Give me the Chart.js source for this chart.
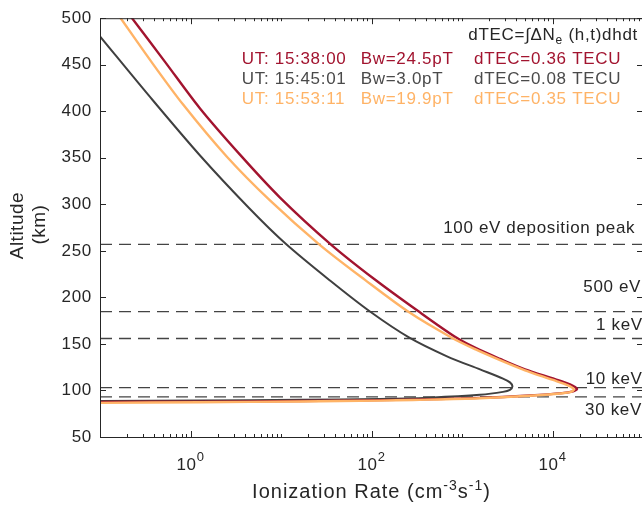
<!DOCTYPE html>
<html><head><meta charset="utf-8">
<script src="https://cdn.jsdelivr.net/npm/chart.js@4.4.1/dist/chart.umd.min.js"></script>
<style>
html,body{margin:0;padding:0;background:#fff;overflow:hidden;width:642px;height:509px}
#wrap{position:relative;width:644px;height:509px}
canvas{display:block}
</style></head>
<body><div id="wrap"><canvas id="c" width="644" height="509" style="width:644px;height:509px"></canvas></div>
<script>
// ---------------- data ----------------
const altRed  = [501, 453.1, 403.0, 353.4, 307.3, 256.8, 219.2, 185.3, 157.7, 146.0, 133.9, 122.7, 112.2, 106.5, 101.6, 99.1, 97.1, 94.6, 92.0, 90.2, 89.6, 88.7, 88.0, 87.7];
const rateRed = [0.222, 0.523, 1.274, 3.52, 9.75, 35.7, 109, 327, 837, 1393, 2632, 4966, 10660, 15600, 18660, 16860, 12740, 5636, 1581, 288, 124, 16.2, 1.274, 0.1];

const altGray  = [480.5, 415.4, 352.5, 296.1, 257.9, 218.1, 184.8, 157.0, 136.7, 122.6, 112.8, 108.7, 104.4, 100.7, 98.5, 95.3, 92.3, 90.8, 89.9, 89.2, 88.6];
const rateGray = [0.1, 0.357, 1.274, 4.43, 11.2, 34.8, 96.2, 259, 682, 1581, 2838, 3388, 3610, 3388, 2838, 1581, 443, 124, 16.2, 1.274, 0.1];

const altOrange  = [501, 455.2, 406.9, 351.4, 304.2, 256.2, 218.8, 183.4, 156.7, 144.4, 132.6, 121.7, 111.3, 105.5, 101.2, 98.4, 96.7, 94.3, 91.6, 89.8, 89.1, 88.2, 87.4, 86.7];
const rateOrange = [0.1664, 0.357, 0.833, 2.51, 7.55, 27.0, 84.7, 266, 769, 1393, 2632, 4966, 10140, 14830, 17290, 16000, 12100, 5636, 1581, 288, 124, 16.2, 1.274, 0.1];

const peakAltitudes = [257, 184.7, 155.8, 103.1, 93.1];
const peakLabels    = ['100 eV deposition peak', '500 eV', '1 keV', '10 keV', '30 keV'];

const utTimes    = ['15:38:00', '15:45:01', '15:53:11'];
const bwValues   = [24.5, 3.0, 19.9];
const dtecValues = [0.36, 0.08, 0.35];

const yTickValues    = [50, 100, 150, 200, 250, 300, 350, 400, 450, 500];
const xTickExponents = [0, 2, 4];
const xRange = [0.1, 1e5];

// ---------------- styles / placement ----------------
const FONT = '"Liberation Sans", Arial, Helvetica, sans-serif';
const AXIS = '#262626';
const C_RED = '#a2142f', C_GRAY = '#404040', C_ORANGE = '#ffb366';
const TEXT_COLORS = [C_RED, '#4a4a4a', C_ORANGE];
const peakLabelPos = [
  {x: 620,   alt: 269.5},
  {x: 21900, alt: 206.1},
  {x: 30300, alt: 165.3},
  {x: 23300, alt: 107.3},
  {x: 22900, alt: 73.9}
];

function pts(xs, ys){ return xs.map((x,i)=>({x:x, y:ys[i]})); }

const datasets = [];
datasets.push({data: pts(rateOrange, altOrange), borderColor: C_ORANGE, borderWidth: 2.4, order: 0});
datasets.push({data: pts(rateRed, altRed), borderColor: C_RED, borderWidth: 2.4, order: 1});
datasets.push({data: pts(rateGray, altGray), borderColor: C_GRAY, borderWidth: 2, order: 2});
peakAltitudes.forEach(a=>{
  datasets.push({data: [{x:xRange[0], y:a},{x:xRange[1], y:a}], borderColor:'#444444', borderWidth:1.4, borderDash:[12,7], tension:0, order: 3});
});
datasets.forEach(d=>{ d.showLine = true; d.pointRadius = 0; d.fill = false; if (d.tension === undefined) d.tension = 0.3; });

function drawRich(ctx, parts, x, y, align, color, spacing){
  ctx.save();
  ctx.fillStyle = color;
  ctx.textBaseline = 'alphabetic';
  ctx.textAlign = 'left';
  try { ctx.letterSpacing = spacing + 'px'; } catch(e){}
  const w = parts.map(p=>{ ctx.font = p.size + 'px ' + FONT; return ctx.measureText(p.t).width; });
  const total = w.reduce((a,b)=>a+b,0);
  let sx = align === 'center' ? x - total/2 : (align === 'right' ? x - total : x);
  parts.forEach((p,i)=>{ ctx.font = p.size + 'px ' + FONT; ctx.fillText(p.t, sx, y + (p.dy||0)); sx += w[i]; });
  ctx.restore();
}

const decor = {
  id: 'decor',
  beforeDraw(chart){ try { chart.ctx.letterSpacing = '0.7px'; } catch(e){} },
  afterDraw(chart){
    const ctx = chart.ctx, a = chart.chartArea;
    const xs = chart.scales.x, ys = chart.scales.y;
    try { ctx.letterSpacing = '0px'; } catch(e){}
    ctx.save();
    ctx.strokeStyle = AXIS; ctx.lineWidth = 1;
    ctx.strokeRect(a.left + 0.5, a.top + 0.5, a.right - a.left - 1, a.bottom - a.top);
    ctx.beginPath();
    yTickValues.forEach(v=>{
      const py = Math.round(ys.getPixelForValue(v)) + 0.5;
      ctx.moveTo(a.left, py); ctx.lineTo(a.left + 6, py);
      ctx.moveTo(a.right, py); ctx.lineTo(a.right - 6, py);
    });
    const e0 = Math.round(Math.log10(xRange[0])), e1 = Math.round(Math.log10(xRange[1]));
    for (let e = e0; e <= e1; e++){
      for (let m = 1; m <= 9; m++){
        const v = m * Math.pow(10, e);
        if (v < xRange[0] || v > xRange[1]) continue;
        const major = (m === 1 && xTickExponents.indexOf(e) >= 0);
        const len = major ? 6 : 3;
        const px = Math.round(xs.getPixelForValue(v)) + 0.5;
        ctx.moveTo(px, a.bottom); ctx.lineTo(px, a.bottom - len);
        ctx.moveTo(px, a.top); ctx.lineTo(px, a.top + len);
      }
    }
    ctx.stroke();
    ctx.restore();

    xTickExponents.forEach(e=>{
      const px = xs.getPixelForValue(Math.pow(10, e));
      drawRich(ctx, [{t:'10', size:17}, {t:String(e), size:13, dy:-9}], px, 470, 'center', AXIS, 0.7);
    });
    drawRich(ctx, [
      {t:'Ionization Rate (cm', size:20},
      {t:'-3', size:14, dy:-8},
      {t:'s', size:20},
      {t:'-1', size:14, dy:-8},
      {t:')', size:20}
    ], (a.left + a.right)/2, 498, 'center', AXIS, 1);
    const cy = (a.top + a.bottom)/2;
    [['Altitude', 23, cy - 2], ['(km)', 44.5, cy - 3]].forEach(([s, x, y])=>{
      ctx.save();
      ctx.fillStyle = AXIS; ctx.font = '19px ' + FONT; ctx.textAlign = 'center'; ctx.textBaseline = 'alphabetic';
      try { ctx.letterSpacing = '0.5px'; } catch(e){}
      ctx.translate(x, y); ctx.rotate(-Math.PI/2); ctx.fillText(s, 0, 0);
      ctx.restore();
    });

    peakLabels.forEach((s,i)=>{
      const p = peakLabelPos[i];
      drawRich(ctx, [{t:s, size:17}], xs.getPixelForValue(p.x), ys.getPixelForValue(p.alt), 'left', AXIS, 0.65);
    });

    drawRich(ctx, [{t:'dTEC=\u222B\u0394N', size:17}, {t:'e', size:12, dy:4}, {t:' (h,t)dhdt', size:17}], 638, 40, 'right', AXIS, 0.7);
    const colX = [241.7, 360.7, 474];
    utTimes.forEach((t,i)=>{
      const by = 64.3 + i*20;
      drawRich(ctx, [{t:'UT: ' + t, size:17}], colX[0], by, 'left', TEXT_COLORS[i], 0.7);
      drawRich(ctx, [{t:'Bw=' + bwValues[i].toFixed(1) + 'pT', size:17}], colX[1], by, 'left', TEXT_COLORS[i], 0.7);
      drawRich(ctx, [{t:'dTEC=' + dtecValues[i].toFixed(2) + ' TECU', size:17}], colX[2], by, 'left', TEXT_COLORS[i], 0.7);
    });
  }
};

new Chart(document.getElementById('c'), {
  type: 'scatter',
  data: {datasets: datasets},
  options: {
    responsive: false,
    animation: false,
    events: [],
    layout: {padding: {left: 40, top: 15, right: 1, bottom: 0}},
    plugins: {legend: {display: false}, tooltip: {enabled: false}},
    scales: {
      x: {
        type: 'logarithmic', min: xRange[0], max: xRange[1],
        grid: {display: false, drawTicks: false}, border: {display: false},
        ticks: {display: false},
        afterFit: s => { s.height = 72; }
      },
      y: {
        type: 'linear', min: 50, max: 500,
        grid: {display: false, drawTicks: false}, border: {display: false},
        ticks: {stepSize: 50, padding: 8, color: AXIS, font: {family: FONT, size: 17}},
        afterBuildTicks: s => { s.ticks = yTickValues.map(v=>({value: v})); },
        afterFit: s => { s.width = 60; }
      }
    }
  },
  plugins: [decor]
});
</script>
</body></html>
